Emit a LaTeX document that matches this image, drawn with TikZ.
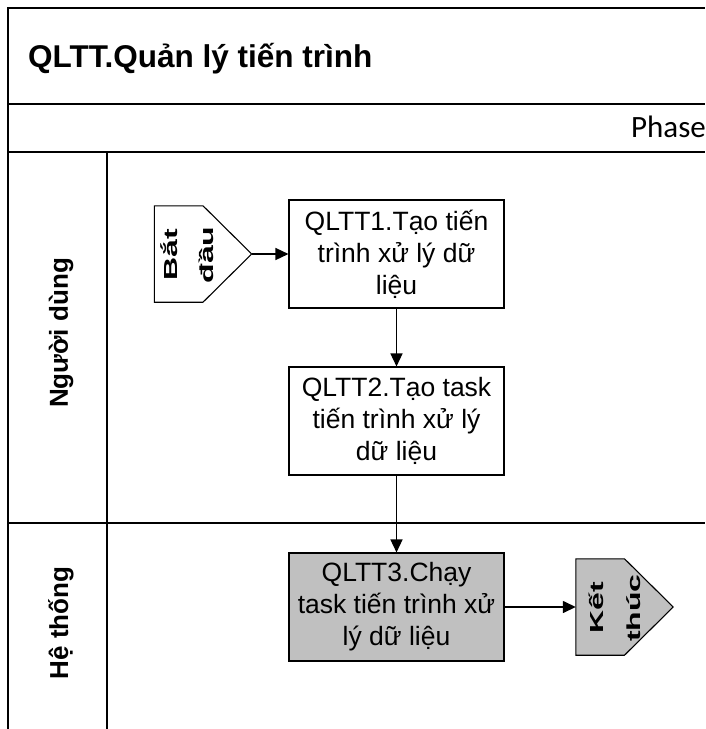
\documentclass[tikz,border=0pt]{standalone}
\usepackage{fontspec}
\usepackage{graphicx}
\setmainfont{Liberation Sans}
\newfontfamily\phasefont{Carlito}
\usetikzlibrary{arrows.meta}
\definecolor{boxgray}{RGB}{192,192,192}
\begin{document}
\begin{tikzpicture}[x=1pt,y=-1pt,
  frame/.style={line width=2pt},
  procbox/.style={draw, line width=1.1pt, minimum width=215pt, minimum height=108pt,
    align=center, inner sep=0pt, font=\fontsize{26.5}{32}\selectfont},
  flowarr/.style={line width=1.5pt, -{Triangle[length=13pt,width=12pt]}},
  lanelabel/.style={rotate=90, inner sep=0pt, font=\bfseries\fontsize{26}{30}\selectfont},
  termword/.style={rotate=90, anchor=base, inner sep=0pt, font=\bfseries\fontsize{32}{36}\selectfont},
  termbox/.style={minimum width=97pt, minimum height=96pt, inner sep=0pt},
  termline/.style={line width=1.1pt}]
\useasboundingbox (0,0) rectangle (705,729);

% pool frame
\draw[frame] (8,729) -- (8,8) -- (705,8);
\draw[frame] (8,104) -- (705,104);
\draw[frame] (8,152) -- (705,152);
\draw[frame] (8,523) -- (705,523);
\draw[frame] (107,152) -- (107,729);

% headings
\node[anchor=base west, inner sep=0pt, font=\bfseries\fontsize{31.5}{36}\selectfont] (title) at (28,67) {QLTT.Quản lý tiến trình};
\node[anchor=base east, inner sep=0pt, font=\phasefont\fontsize{31}{36}\selectfont] (phase) at (706,137) {Phase};
\node[lanelabel] (lane1) at (61,333) {Người dùng};
\node[lanelabel] (lane2) at (61,623) {Hệ thống};

% start terminator
\node[termbox] (start) at (203,254) {};
\draw[termline, fill=white] (start.north west) -- (start.north) -- (start.east) -- (start.south) -- (start.south west) -- cycle;
\node[termword] (startw1) at (177,255) {\scalebox{1}[0.59]{Bắt}};
\node[termword] (startw2) at (213,255) {\scalebox{1}[0.59]{đầu}};

% process boxes
\node[procbox] (t1) at (396.5,254) {QLTT1.Tạo tiến\\trình xử lý dữ\\liệu};
\node[procbox] (t2) at (396.5,421) {QLTT2.Tạo task\\tiến trình xử lý\\dữ liệu};
\node[procbox, fill=boxgray] (t3) at (396.5,607) {QLTT3.Chạy\\task tiến trình xử\\lý dữ liệu};

% end terminator
\node[termbox] (finish) at (624.5,607) {};
\draw[termline, fill=boxgray] (finish.north west) -- (finish.north) -- (finish.east) -- (finish.south) -- (finish.south west) -- cycle;
\node[termword] (finishw1) at (603,608) {\scalebox{1}[0.59]{Kết}};
\node[termword] (finishw2) at (640,608) {\scalebox{1}[0.59]{thúc}};

% connectors
\draw[flowarr] (start.east) -- (t1.west);
\draw[flowarr] (t1.south) -- (t2.north);
\draw[flowarr] (t2.south) -- (t3.north);
\draw[flowarr] (t3.east) -- (finish.west);
\end{tikzpicture}
\end{document}
